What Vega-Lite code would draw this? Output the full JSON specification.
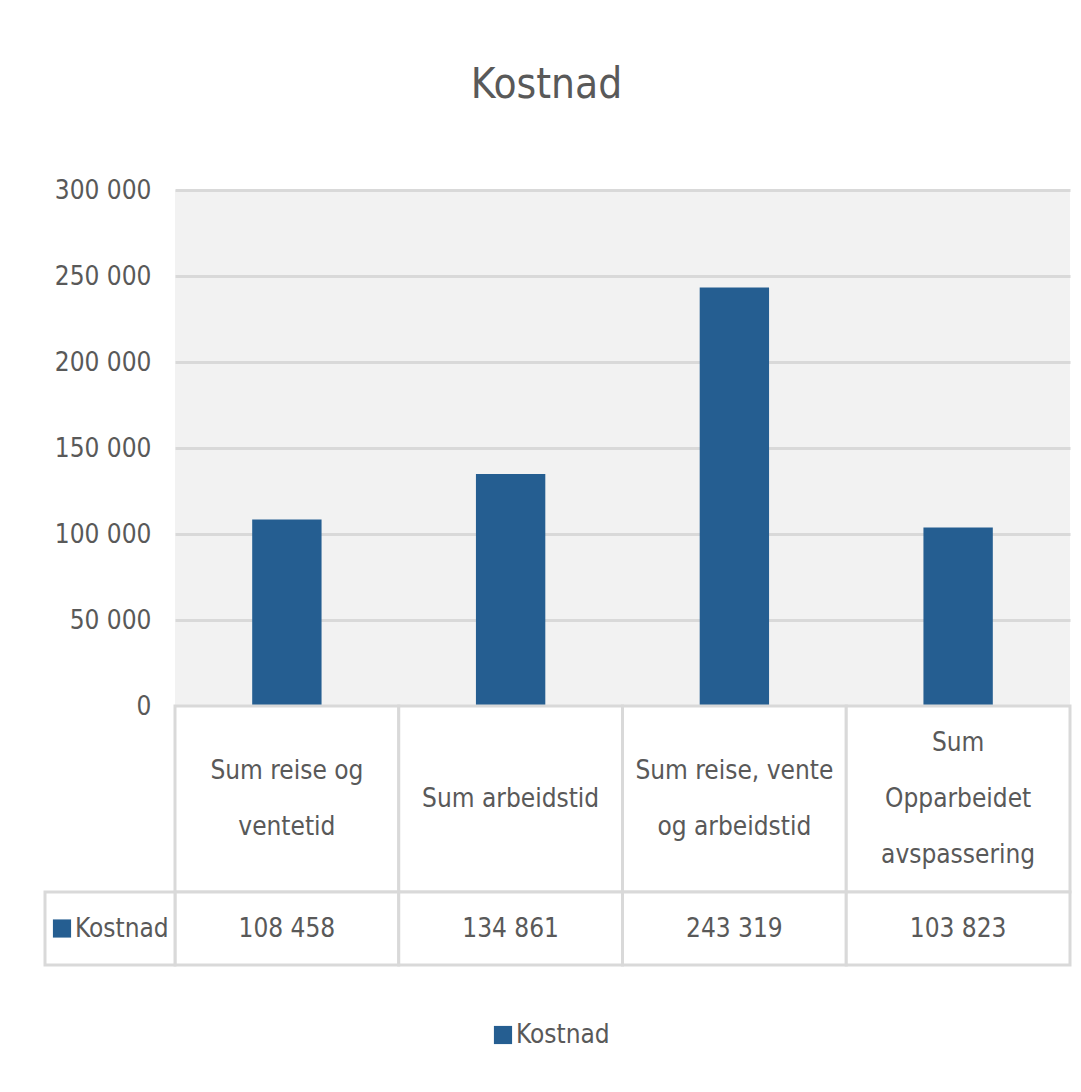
{
  "$schema": "https://vega.github.io/schema/vega-lite/v6.json",
  "background": "white",
  "padding": {"left": 43, "top": 64, "right": 10, "bottom": 5},
  "title": {
    "text": "Kostnad",
    "fontSize": 42,
    "fontWeight": "normal",
    "color": "#595959",
    "anchor": "middle",
    "offset": 70,
    "dx": -11
  },
  "datasets": {
    "kostnad": [
      {"kategori": "Sum reise og ventetid", "etikett": "Sum reise og\nventetid", "Kostnad": 108458},
      {"kategori": "Sum arbeidstid", "etikett": "Sum arbeidstid", "Kostnad": 134861},
      {"kategori": "Sum reise, vente og arbeidstid", "etikett": "Sum reise, vente\nog arbeidstid", "Kostnad": 243319},
      {"kategori": "Sum Opparbeidet avspassering", "etikett": "Sum\nOpparbeidet\navspassering", "Kostnad": 103823}
    ],
    "serie": [{"serie": "Kostnad"}]
  },
  "spacing": 0,
  "bounds": "flush",
  "resolve": {"scale": {"color": "independent"}, "legend": {"color": "independent"}},
  "vconcat": [
    {
      "width": 895,
      "height": 516,
      "view": {"fill": "#f2f2f2", "stroke": null},
      "data": {"name": "kostnad"},
      "mark": {"type": "bar", "width": {"band": 0.31}, "color": "#255e91"},
      "encoding": {
        "x": {
          "field": "kategori", "type": "nominal", "sort": null,
          "scale": {"paddingInner": 0, "paddingOuter": 0},
          "axis": null
        },
        "y": {
          "field": "Kostnad", "type": "quantitative",
          "scale": {"domain": [0, 300000], "nice": false},
          "axis": {
            "values": [0, 50000, 100000, 150000, 200000, 250000, 300000],
            "format": ",d",
            "title": null,
            "domain": false,
            "ticks": false,
            "labelPadding": 24,
            "labelFontSize": 26,
            "labelColor": "#595959",
            "gridColor": "#d9d9d9",
            "gridWidth": 3
          }
        }
      }
    },
    {
      "width": 895,
      "height": 186,
      "data": {"name": "kostnad"},
      "encoding": {
        "x": {
          "field": "kategori", "type": "nominal", "sort": null,
          "scale": {"paddingInner": 0, "paddingOuter": 0},
          "axis": null
        }
      },
      "layer": [
        {"mark": {"type": "rect", "fill": "white", "stroke": "#d9d9d9", "strokeWidth": 3}},
        {
          "mark": {
            "type": "text", "lineBreak": "\n", "lineHeight": 56, "fontSize": 26, "color": "#595959", "baseline": "middle",
            "dy": {"expr": "-(length(split(datum.etikett, '\\n')) - 1) * 28"}
          },
          "encoding": {"text": {"field": "etikett"}}
        }
      ]
    },
    {
      "width": 895,
      "height": 73,
      "resolve": {"scale": {"x": "independent"}, "axis": {"x": "independent"}},
      "layer": [
        {
          "data": {"name": "kostnad"},
          "mark": {"type": "rect", "fill": "white", "stroke": "#d9d9d9", "strokeWidth": 3},
          "encoding": {
            "x": {"field": "kategori", "type": "nominal", "sort": null, "scale": {"paddingInner": 0, "paddingOuter": 0}, "axis": null}
          }
        },
        {
          "data": {"name": "kostnad"},
          "mark": {"type": "text", "fontSize": 26, "color": "#595959", "baseline": "middle"},
          "encoding": {
            "x": {"field": "kategori", "type": "nominal", "sort": null, "scale": {"paddingInner": 0, "paddingOuter": 0}, "axis": null},
            "text": {"field": "Kostnad", "type": "quantitative", "format": ",d"}
          }
        },
        {
          "data": {"name": "serie"},
          "encoding": {
            "x": {"field": "serie", "type": "nominal", "bandPosition": 0, "scale": {"domain": ["Kostnad"], "range": [-130, 0], "paddingInner": 0, "paddingOuter": 0}, "axis": null}
          },
          "layer": [
            {
              "mark": {"type": "rect", "fill": "white", "stroke": "#d9d9d9", "strokeWidth": 3},
              "encoding": {"x": {"field": "serie", "type": "nominal", "scale": {"domain": ["Kostnad"], "range": [-130, 0], "paddingInner": 0, "paddingOuter": 0}, "axis": null}}
            },
            {
              "mark": {"type": "square", "size": 330, "filled": true, "opacity": 1, "xOffset": 17},
              "encoding": {
                "color": {
                  "field": "serie", "type": "nominal",
                  "scale": {"range": ["#255e91"]},
                  "legend": {
                    "orient": "none", "legendX": 315, "legendY": 130,
                    "title": null, "symbolType": "square", "symbolSize": 330,
                    "symbolStrokeWidth": 0, "symbolOpacity": 1,
                    "labelFontSize": 26, "labelColor": "#595959", "labelOffset": 0
                  }
                }
              }
            },
            {
              "mark": {"type": "text", "fontSize": 26, "color": "#595959", "align": "left", "baseline": "middle", "dx": 30},
              "encoding": {"text": {"field": "serie"}}
            }
          ]
        }
      ]
    }
  ],
  "config": {
    "font": "Liberation Sans Narrow, DejaVu Sans Condensed, sans-serif",
    "view": {"stroke": null},
    "locale": {"number": {"decimal": ",", "thousands": " ", "grouping": [3], "currency": ["", " kr"]}}
  }
}
